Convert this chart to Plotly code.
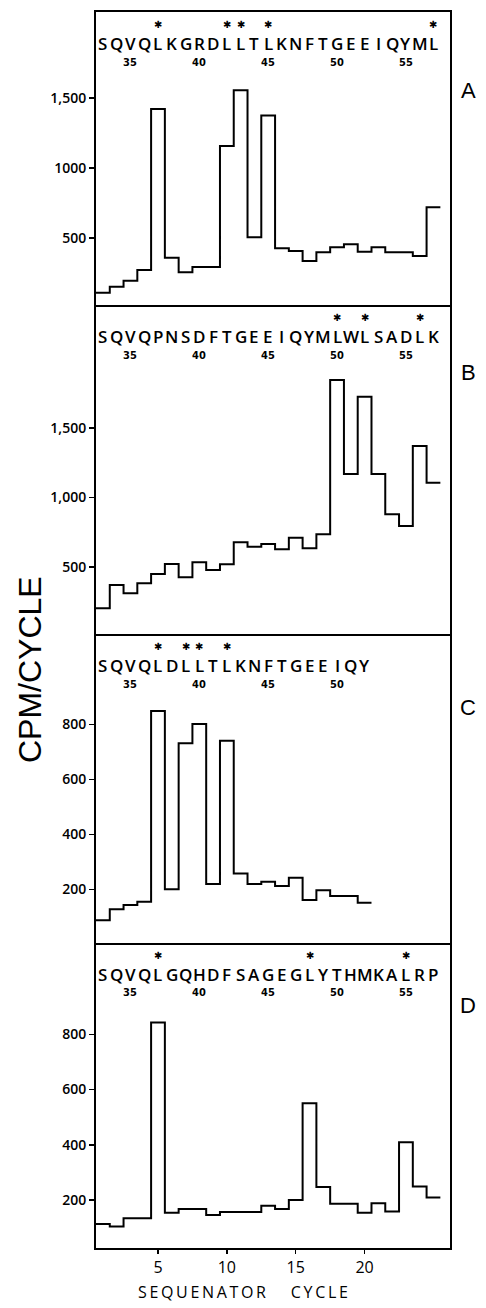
import plotly.graph_objects as go

# ---------------- data ----------------
cycles_a = list(range(1, 26))
cpm_a = [109, 152, 195, 271, 1421, 359, 255, 293, 293, 1157, 1555, 505, 1374,
         426, 407, 336, 398, 433, 455, 402, 433, 398, 398, 371, 719]
seq_a = "SQVQLKGRDLLTLKNFTGEEIQYML"
star_a = [5, 10, 11, 13, 25]

cycles_b = list(range(1, 26))
cpm_b = [203, 370, 311, 383, 450, 522, 426, 534, 478, 519, 678, 646, 665,
         627, 711, 635, 735, 1845, 1169, 1725, 1169, 879, 795, 1370, 1106]
seq_b = "SQVQPNSDFTGEEIQYMLWLSADLK"
star_b = [18, 20, 24]

cycles_c = list(range(1, 21))
cpm_c = [88, 128, 143, 155, 848, 200, 731, 801, 219, 740, 258, 219, 228,
         212, 242, 161, 197, 176, 176, 151]
seq_c = "SQVQLDLLTLKNFTGEEIQY"
star_c = [5, 7, 8, 10]

cycles_d = list(range(1, 26))
cpm_d = [113, 104, 134, 134, 843, 154, 167, 167, 146, 156, 156, 156, 179,
         167, 200, 550, 247, 186, 186, 154, 188, 158, 409, 249, 209]
seq_d = "SQVQLGQHDFSAGEGLYTHMKALRP"
star_d = [5, 16, 23]

residue_ticks = [35, 40, 45, 50, 55]
first_residue = 33

yticks_ab = [500, 1000, 1500]
yticklabels_a = ["500", "1000", "1,500"]
yticklabels_b = ["500", "1,000", "1,500"]
yticks_cd = [200, 400, 600, 800]
yticklabels_cd = ["200", "400", "600", "800"]
xticks = [5, 10, 15, 20]
panel_names = ["A", "B", "C", "D"]

# ---------------- layout (pixels) ----------------
W, H = 486, 1308
x_left, x_right = 96, 450
panel_px = [(12, 305), (305, 634), (634, 943), (943, 1248)]
yranges = [(21, 2114), (18, 2385), (5, 1128), (26, 1131)]
xrange_ = (0.5, 26.2)


def py(p):
    return 1 - p / H


def px(p):
    return p / W


panels = [
    (cycles_a, cpm_a, seq_a, star_a, yticks_ab, yticklabels_a),
    (cycles_b, cpm_b, seq_b, star_b, yticks_ab, yticklabels_b),
    (cycles_c, cpm_c, seq_c, star_c, yticks_cd, yticklabels_cd),
    (cycles_d, cpm_d, seq_d, star_d, yticks_cd, yticklabels_cd),
]

fig = go.Figure()
annotations = []
tick_font = dict(family="Open Sans", size=14, color="black", weight=600)
seq_font = dict(family="Open Sans", size=17, color="black", weight=600)

for i, (cyc, vals, seq, stars, yt, ytl) in enumerate(panels):
    n = i + 1
    xa = "x" if n == 1 else f"x{n}"
    ya = "y" if n == 1 else f"y{n}"
    # step edges: each cycle occupies [c-0.5, c+0.5]
    xs = [c - 0.5 for c in cyc] + [cyc[-1] + 0.5]
    ys = list(vals) + [vals[-1]]
    fig.add_trace(go.Scatter(x=xs, y=ys, mode="lines", line_shape="hv",
                             line=dict(color="black", width=2),
                             xaxis=xa, yaxis=ya, showlegend=False,
                             hoverinfo="skip"))
    top, bot = panel_px[i]
    is_bottom = (i == 3)
    fig.layout[f"xaxis{'' if n == 1 else n}"] = dict(
        domain=[px(x_left), px(x_right)], range=list(xrange_),
        anchor=ya, showline=True, mirror=(i == 0), linecolor="black", linewidth=2,
        showgrid=False, zeroline=False,
        tickvals=xticks if is_bottom else [],
        ticks="outside" if is_bottom else "", ticklen=4, tickwidth=1.5,
        tickcolor="black",
        showticklabels=is_bottom,
        tickfont=dict(family="Open Sans", size=16, color="black"),
    )
    fig.layout[f"yaxis{'' if n == 1 else n}"] = dict(
        domain=[py(bot), py(top)], range=list(yranges[i]),
        anchor=xa, showline=True, mirror=True, linecolor="black", linewidth=2,
        showgrid=False, zeroline=False,
        tickvals=yt, ticktext=ytl, ticks="outside", ticklen=5, tickwidth=1.5,
        tickcolor="black", tickfont=tick_font,
    )
    # sequence letters
    for k, ch in enumerate(seq):
        c = cyc[k]
        annotations.append(dict(x=c, y=py(top + 31), xref=xa, yref="paper",
                                text=ch, showarrow=False, font=seq_font,
                                xanchor="center", yanchor="middle"))
        if c in stars:
            annotations.append(dict(x=c, y=py(top + 12), xref=xa, yref="paper",
                                    text="✱", showarrow=False,
                                    font=dict(family="DejaVu Sans", size=10, color="black"),
                                    xanchor="center", yanchor="middle",
                                    borderpad=0))
    for r in residue_ticks:
        c = r - first_residue + 1
        if c <= len(seq):
            annotations.append(dict(x=c, y=py(top + 50), xref=xa, yref="paper",
                                    text=f"<b>{r}</b>", showarrow=False,
                                    font=dict(family="DejaVu Sans Condensed, DejaVu Sans",
                                              size=11, color="black"),
                                    xanchor="center", yanchor="middle"))
    # panel label
    label_y = [90, 372, 707, 1005][i]
    annotations.append(dict(x=px(468), y=py(label_y), xref="paper", yref="paper",
                            text=panel_names[i], showarrow=False,
                            font=dict(family="Liberation Sans", size=22, color="black"),
                            xanchor="center", yanchor="middle"))

annotations.append(dict(x=px(30), y=py(670), xref="paper", yref="paper",
                        text="CPM/CYCLE", textangle=-90, showarrow=False,
                        font=dict(family="Liberation Sans", size=32, color="black"),
                        xanchor="center", yanchor="middle"))
thin = "\u2009"
xtitle = thin.join("SEQUENATOR") + "      " + thin.join("CYCLE")
annotations.append(dict(x=px(243), y=py(1292), xref="paper", yref="paper",
                        text=xtitle, showarrow=False,
                        font=dict(family="Open Sans", size=16, color="black"),
                        xanchor="center", yanchor="middle"))

fig.update_layout(width=W, height=H, margin=dict(l=0, r=0, t=0, b=0),
                  paper_bgcolor="white", plot_bgcolor="white",
                  annotations=annotations)

fig.write_html("out.html",
               config={"displayModeBar": False, "staticPlot": True},
               post_script="document.body.style.margin='0';"
                           "document.body.style.overflow='hidden';")
